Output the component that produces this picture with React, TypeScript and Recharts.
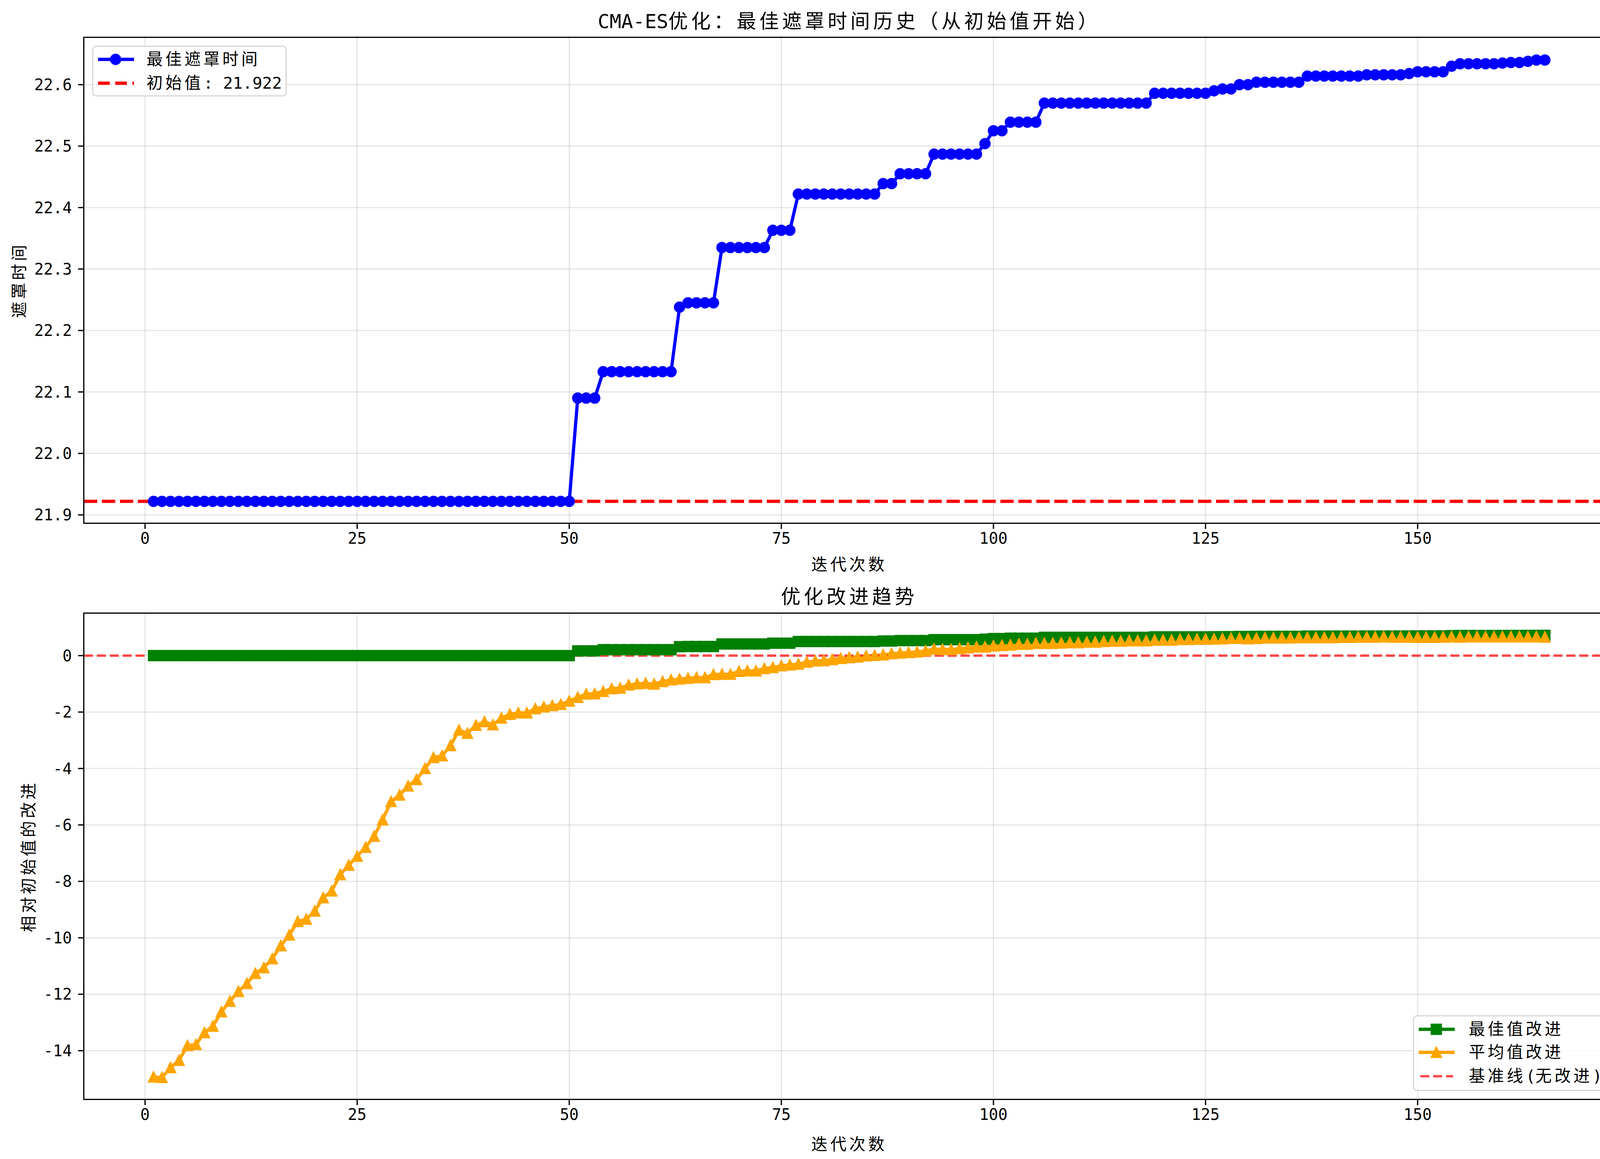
import React from 'react';
import { LineChart, Line, XAxis, YAxis, CartesianGrid, ReferenceLine } from 'recharts';

const INITIAL = 21.922;

// best shading time per iteration (iteration = index + 1)
const bestTimes = [
  21.922, 21.922, 21.922, 21.922, 21.922, 21.922, 21.922, 21.922, 21.922, 21.922,
  21.922, 21.922, 21.922, 21.922, 21.922, 21.922, 21.922, 21.922, 21.922, 21.922,
  21.922, 21.922, 21.922, 21.922, 21.922, 21.922, 21.922, 21.922, 21.922, 21.922,
  21.922, 21.922, 21.922, 21.922, 21.922, 21.922, 21.922, 21.922, 21.922, 21.922,
  21.922, 21.922, 21.922, 21.922, 21.922, 21.922, 21.922, 21.922, 21.922, 21.922,
  22.090, 22.090, 22.090, 22.133, 22.133, 22.133, 22.133, 22.133, 22.133, 22.133,
  22.133, 22.133, 22.238, 22.245, 22.245, 22.245, 22.245, 22.335, 22.335, 22.335,
  22.335, 22.335, 22.335, 22.363, 22.363, 22.363, 22.422, 22.422, 22.422, 22.422,
  22.422, 22.422, 22.422, 22.422, 22.422, 22.422, 22.439, 22.439, 22.455, 22.455,
  22.455, 22.455, 22.487, 22.487, 22.487, 22.487, 22.487, 22.487, 22.504, 22.525,
  22.525, 22.539, 22.539, 22.539, 22.539, 22.570, 22.570, 22.570, 22.570, 22.570,
  22.570, 22.570, 22.570, 22.570, 22.570, 22.570, 22.570, 22.570, 22.586, 22.586,
  22.586, 22.586, 22.586, 22.586, 22.586, 22.590, 22.593, 22.593, 22.600, 22.600,
  22.604, 22.604, 22.604, 22.604, 22.604, 22.604, 22.614, 22.614, 22.614, 22.614,
  22.614, 22.614, 22.614, 22.616, 22.616, 22.616, 22.616, 22.616, 22.618, 22.621,
  22.621, 22.621, 22.621, 22.630, 22.634, 22.634, 22.634, 22.634, 22.634, 22.635,
  22.636, 22.636, 22.638, 22.640, 22.640,
];

// mean value improvement relative to the initial value
const meanImprovement = [
  -14.93, -14.95, -14.6, -14.34, -13.82, -13.78, -13.36, -13.13, -12.62, -12.25,
  -11.9, -11.62, -11.26, -11.06, -10.74, -10.28, -9.9, -9.42, -9.34, -9.05,
  -8.58, -8.34, -7.76, -7.43, -7.11, -6.79, -6.4, -5.82, -5.17, -4.94,
  -4.62, -4.39, -4.0, -3.61, -3.55, -3.19, -2.64, -2.75, -2.47, -2.34,
  -2.45, -2.21, -2.08, -2.03, -2.03, -1.88, -1.82, -1.77, -1.73, -1.61,
  -1.48, -1.36, -1.35, -1.27, -1.17, -1.15, -1.04, -1.0, -0.98, -1.01,
  -0.92, -0.86, -0.83, -0.8, -0.78, -0.78, -0.67, -0.66, -0.66, -0.56,
  -0.54, -0.54, -0.46, -0.42, -0.36, -0.33, -0.3, -0.23, -0.19, -0.18,
  -0.14, -0.1, -0.07, -0.05, -0.01, 0.01, 0.03, 0.07, 0.09, 0.11,
  0.13, 0.17, 0.23, 0.22, 0.215, 0.25, 0.275, 0.305, 0.305, 0.345,
  0.357, 0.376, 0.403, 0.403, 0.435, 0.435, 0.435, 0.449, 0.458, 0.458,
  0.48, 0.48, 0.5, 0.513, 0.513, 0.527, 0.527, 0.527, 0.55, 0.55,
  0.55, 0.574, 0.574, 0.583, 0.583, 0.587, 0.597, 0.611, 0.611, 0.597,
  0.611, 0.629, 0.629, 0.629, 0.629, 0.638, 0.638, 0.638, 0.638, 0.638,
  0.648, 0.648, 0.657, 0.657, 0.657, 0.666, 0.657, 0.657, 0.657, 0.648,
  0.648, 0.648, 0.657, 0.666, 0.657, 0.666, 0.666, 0.666, 0.666, 0.666,
  0.666, 0.666, 0.666, 0.666, 0.657,
];

const xTicks = [0, 25, 50, 75, 100, 125, 150];
const topYTicks = [21.9, 22.0, 22.1, 22.2, 22.3, 22.4, 22.5, 22.6];
const bottomYTicks = [-14, -12, -10, -8, -6, -4, -2, 0];

const data = bestTimes.map((best, i) => ({
  iter: i + 1,
  best,
  bestImp: best - INITIAL,
  meanImp: meanImprovement[i],
}));

const W = 4168;
const H = 2967;
const PLOT_LEFT = 215;
const PLOT_RIGHT = 4133;
const TOP_PLOT_TOP = 96;
const TOP_PLOT_BOTTOM = 1339;
const BOT_PLOT_TOP = 1570;
const BOT_PLOT_BOTTOM = 2814;
const Y_AXIS_W = 170;
const X_AXIS_H = 70;
const TOP_CHART_H = 1420;
const BOT_CHART_TOP = 1480;
const BOT_CHART_H = H - BOT_CHART_TOP;

const FONT = "'DejaVu Sans Mono', 'Noto Sans CJK SC', monospace";
const BLUE = '#0000ff';
const GREEN = '#008000';
const ORANGE = '#ffa500';
const RED = '#ff0000';
const LW = 8.3;

const tickStyle = { fontSize: 40, fill: '#000', fontFamily: FONT };
const tickLine = { stroke: '#000', strokeWidth: 3.3 };

const Spaced = ({ text, spacing }: { text: string; spacing: string }) => (
  <>
    {text.split(/([\u3000-\u9fff\uff00-\uffef]+)/).map((part, i) =>
      /[\u3000-\u9fff\uff00-\uffef]/.test(part) ? (
        <span key={i} style={{ letterSpacing: spacing }}>{part}</span>
      ) : (
        <span key={i}>{part}</span>
      )
    )}
  </>
);

const Label = ({ text, x, y, size, rotate }: { text: string; x: number; y: number; size: number; rotate?: boolean }) => (
  <div
    style={{
      position: 'absolute',
      left: x,
      top: y,
      transform: `translate(-50%, -50%)${rotate ? ' rotate(-90deg)' : ''}`,
      fontSize: size,
      fontFamily: FONT,
      whiteSpace: 'nowrap',
      lineHeight: 1,
      color: '#000',
    }}
  >
    <Spaced text={text} spacing="0.165em" />
  </div>
);

const Frame = ({ top, bottom }: { top: number; bottom: number }) => (
  <div
    style={{
      position: 'absolute',
      left: PLOT_LEFT - 1.65,
      top: top - 1.65,
      width: PLOT_RIGHT - PLOT_LEFT + 3.3,
      height: bottom - top + 3.3,
      border: '3.3px solid #000',
      boxSizing: 'border-box',
      pointerEvents: 'none',
    }}
  />
);

const renderSquare = (props: any) => {
  const { cx, cy, index } = props;
  return (
    <rect key={`sq-${index}`} x={cx - 12.5} y={cy - 12.5} width={25} height={25}
      fill={GREEN} stroke={GREEN} strokeWidth={4} />
  );
};

const renderTriangle = (props: any) => {
  const { cx, cy, index } = props;
  const s = 12.5;
  return (
    <polygon key={`tr-${index}`}
      points={`${cx},${cy - s} ${cx - s},${cy + s} ${cx + s},${cy + s}`}
      fill={ORANGE} stroke={ORANGE} strokeWidth={4} />
  );
};

type LegendItem = { label: string; icon: React.ReactNode };

const LegendBox = ({ left, top, width, height, rows, textLeft, rowYs }: {
  left: number; top: number; width: number; height: number;
  rows: LegendItem[]; textLeft: number; rowYs: number[];
}) => (
  <div
    style={{
      position: 'absolute', left, top, width, height,
      border: '3.5px solid #d6d6d6', borderRadius: 10,
      background: 'rgba(255,255,255,0.8)', boxSizing: 'border-box',
    }}
  >
    {rows.map((r, i) => (
      <React.Fragment key={r.label}>
        <svg style={{ position: 'absolute', left: 10, top: rowYs[i] - 20 }} width={96} height={40}>
          {r.icon}
        </svg>
        <div
          style={{
            position: 'absolute', left: textLeft, top: rowYs[i], transform: 'translateY(-50%)',
            fontSize: 41.7, fontFamily: FONT, whiteSpace: 'nowrap', lineHeight: 1,
          }}
        >
          <Spaced text={r.label} spacing="0.165em" />
        </div>
      </React.Fragment>
    ))}
  </div>
);

const App: React.FC = () => {
  return (
    <div style={{ position: 'fixed', left: 0, top: 0, width: W, height: H, background: '#fff', overflow: 'hidden' }}>
      <style>{'html, body { margin: 0; padding: 0; overflow: hidden; }'}</style>
      <Label text="CMA-ES优化：最佳遮罩时间历史（从初始值开始）" x={2174} y={55} size={50} />
      <div style={{ position: 'absolute', left: 0, top: 0 }}>
        <LineChart
          width={W}
          height={TOP_CHART_H}
          data={data}
          margin={{ top: TOP_PLOT_TOP, right: W - PLOT_RIGHT, left: PLOT_LEFT - Y_AXIS_W, bottom: TOP_CHART_H - TOP_PLOT_BOTTOM - X_AXIS_H }}
        >
          <CartesianGrid stroke="#b0b0b0" strokeOpacity={0.3} strokeWidth={3.3} />
          <XAxis dataKey="iter" type="number" domain={[-7.2, 173.2]} ticks={xTicks} interval={0}
            allowDataOverflow height={X_AXIS_H} axisLine={false} tickLine={tickLine}
            tickSize={15} tickMargin={10} tick={tickStyle} />
          <YAxis type="number" domain={[21.8867, 22.6767]} ticks={topYTicks} interval={0}
            allowDataOverflow width={Y_AXIS_W} axisLine={false} tickLine={tickLine}
            tickSize={15} tickMargin={16} tick={tickStyle} tickFormatter={(v: number) => v.toFixed(1)} />
          <Line type="linear" dataKey="best" stroke={BLUE} strokeWidth={LW}
            dot={{ r: 12.5, fill: BLUE, stroke: BLUE, strokeWidth: 4 }} activeDot={false}
            isAnimationActive={false} />
          <ReferenceLine y={INITIAL} stroke={RED} strokeWidth={LW} strokeDasharray="34 12" />
        </LineChart>
      </div>
      <Frame top={TOP_PLOT_TOP} bottom={TOP_PLOT_BOTTOM} />
      <Label text="迭代次数" x={2174} y={1446} size={41.7} />
      <Label text="遮罩时间" x={50} y={717} size={41.7} rotate />
      <LegendBox
        left={236} top={117} width={498} height={130} textLeft={136} rowYs={[32, 93]}
        rows={[
          {
            label: '最佳遮罩时间',
            icon: (
              <>
                <line x1={2} y1={20} x2={94} y2={20} stroke={BLUE} strokeWidth={LW} />
                <circle cx={47} cy={20} r={12.5} fill={BLUE} stroke={BLUE} strokeWidth={4} />
              </>
            ),
          },
          {
            label: '初始值: 21.922',
            icon: <line x1={2} y1={20} x2={94} y2={20} stroke={RED} strokeWidth={LW} strokeDasharray="30 14" />,
          },
        ]}
      />

      <Label text="优化改进趋势" x={2174} y={1528} size={50} />
      <div style={{ position: 'absolute', left: 0, top: BOT_CHART_TOP }}>
        <LineChart
          width={W}
          height={BOT_CHART_H}
          data={data}
          margin={{ top: BOT_PLOT_TOP - BOT_CHART_TOP, right: W - PLOT_RIGHT, left: PLOT_LEFT - Y_AXIS_W, bottom: BOT_CHART_H - (BOT_PLOT_BOTTOM - BOT_CHART_TOP) - X_AXIS_H }}
        >
          <CartesianGrid stroke="#b0b0b0" strokeOpacity={0.3} strokeWidth={3.3} />
          <XAxis dataKey="iter" type="number" domain={[-7.2, 173.2]} ticks={xTicks} interval={0}
            allowDataOverflow height={X_AXIS_H} axisLine={false} tickLine={tickLine}
            tickSize={15} tickMargin={10} tick={tickStyle} />
          <YAxis type="number" domain={[-15.72, 1.5]} ticks={bottomYTicks} interval={0}
            allowDataOverflow width={Y_AXIS_W} axisLine={false} tickLine={tickLine}
            tickSize={15} tickMargin={16} tick={tickStyle} />
          <Line type="linear" dataKey="bestImp" stroke={GREEN} strokeWidth={LW}
            dot={renderSquare} activeDot={false} isAnimationActive={false} />
          <Line type="linear" dataKey="meanImp" stroke={ORANGE} strokeWidth={LW}
            dot={renderTriangle} activeDot={false} isAnimationActive={false} />
          <ReferenceLine y={0} stroke={RED} strokeOpacity={0.7} strokeWidth={6.25} strokeDasharray="23 10" />
        </LineChart>
      </div>
      <Frame top={BOT_PLOT_TOP} bottom={BOT_PLOT_BOTTOM} />
      <Label text="迭代次数" x={2174} y={2930} size={41.7} />
      <Label text="相对初始值的改进" x={74} y={2192} size={41.7} rotate />
      <LegendBox
        left={3617} top={2599} width={501} height={194} textLeft={140} rowYs={[33, 92, 153]}
        rows={[
          {
            label: '最佳值改进',
            icon: (
              <>
                <line x1={2} y1={20} x2={94} y2={20} stroke={GREEN} strokeWidth={LW} />
                <rect x={34.5} y={7.5} width={25} height={25} fill={GREEN} stroke={GREEN} strokeWidth={4} />
              </>
            ),
          },
          {
            label: '平均值改进',
            icon: (
              <>
                <line x1={2} y1={20} x2={94} y2={20} stroke={ORANGE} strokeWidth={LW} />
                <polygon points="47,7.5 34.5,32.5 59.5,32.5" fill={ORANGE} stroke={ORANGE} strokeWidth={4} />
              </>
            ),
          },
          {
            label: '基准线(无改进)',
            icon: <line x1={6} y1={20} x2={90} y2={20} stroke={RED} strokeOpacity={0.7} strokeWidth={6.25} strokeDasharray="23 10" />,
          },
        ]}
      />
    </div>
  );
};

export default App;
